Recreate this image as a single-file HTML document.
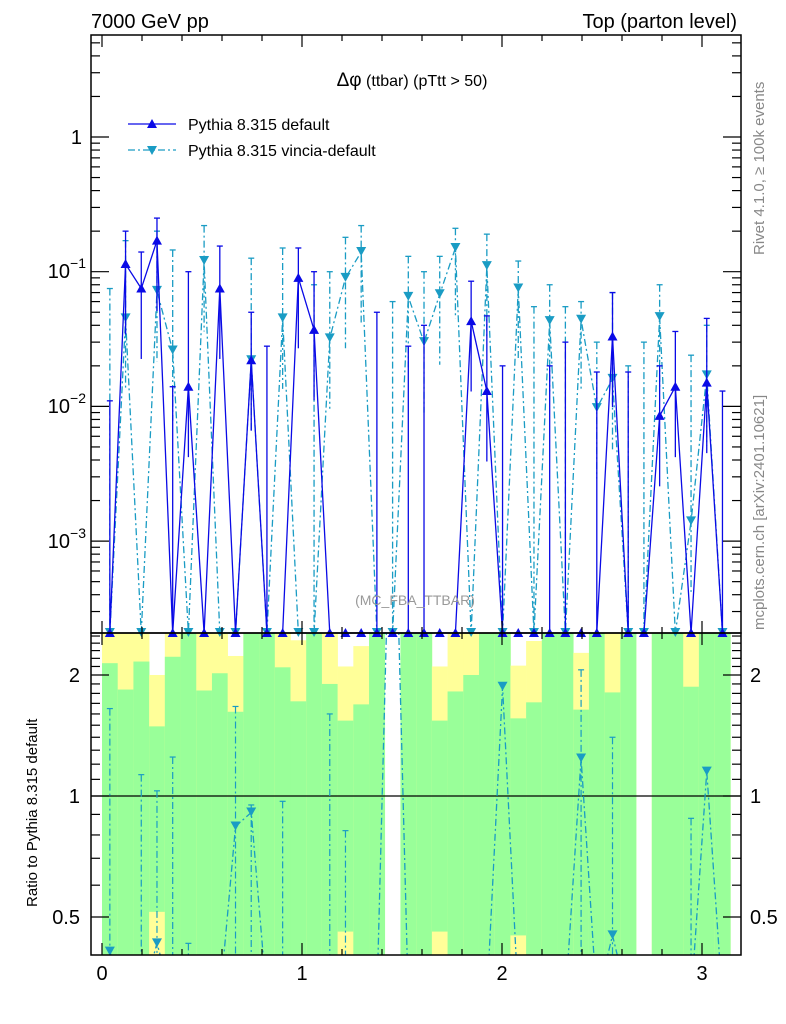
<!DOCTYPE html>
<html><head><meta charset="utf-8"><style>
html,body{margin:0;background:#fff;width:786px;height:1024px;overflow:hidden;position:relative;}
svg{display:block;font-family:"Liberation Sans",sans-serif;}
</style></head><body>
<svg id="c" width="786" height="1024" style="position:absolute;left:0;top:0;overflow:hidden"></svg>
<script>
const binCount = 40;
const defVals = [0,0.114,0.075,0.17,0,0.014,0,0.075,0,0.022,0,0,0.09,0.037,0,0,0,0,0,0,0,0,0,0.043,0.013,0,0,0,0,0,0,0,0.033,0,0,0.0085,0.014,0,0.015,0];
const defErrHi = [0.011,0.2,0.14,0.25,0.014,0.1,0,0.155,0,0.05,0.028,0,0.15,0.1,0,0,0,0.05,0,0.028,0.04,0,0,0.085,0.047,0.02,0,0,0.02,0.03,0,0.018,0.07,0.018,0,0.02,0.036,0,0.045,0.013];
const vinVals = [0,0.045,0,0.072,0.026,0,0.12,0,0,0.022,0,0.045,0,0,0.032,0.09,0.14,0,0,0.065,0.03,0.068,0.15,0,0.11,0,0.075,0,0.043,0,0.044,0.0097,0.016,0,0,0.046,0,0.0014,0.017,0];
const vinErrHi = [0.075,0.17,0,0.2,0.145,0,0.22,0,0,0.126,0,0.15,0,0.08,0.1,0.18,0.22,0,0.06,0.13,0.1,0.13,0.21,0,0.19,0,0.12,0.055,0.08,0.055,0.06,0.03,0.07,0.02,0.03,0.08,0,0.024,0.04,0];
const ratioVals = [0.41,0,0,0.43,0,0,0,0,0.84,0.91,0,0,0,0,0,0,0,0,10,0,0,0,0,0,0,1.87,0,0,0,0,1.24,0,0.45,0,0,0,0,0,1.15,0];
const ratioErrHi = [1.65,0,1.13,1.03,1.25,0.43,0,0,1.67,0.95,0,0.97,0,0,1.60,0.82,0,0,0,0,0,0,0,0,0,0,0,0,0,0,2.06,0,1.40,0,0,0,0,0.88,0,0];
const greenHi = [2.14,1.84,2.16,1.49,2.22,3,1.83,2.02,1.62,3,3,2.09,1.72,3,1.90,1.54,1.69,3,null,3,3,1.54,1.82,2.00,3,3,1.56,1.71,3,3,1.64,3,1.81,3,null,3,3,1.87,3,3];
const yellowHi = [3,3,3,2.0,3,3,3,3,2.23,3,3,3,2.44,3,3,2.10,2.36,3,null,3,3,2.10,3,3,3,3,2.11,2.43,3,3,2.27,3,3,3,null,3,3,3,3,3];
const greenLo = [0,0,0,0.515,0,0,0,0,0,0,0,0,0,0,0,0.46,0,0,0,0,0,0.46,0,0,0,0,0.45,0,0,0,0,0,0,0,0,0,0,0,0,0];
const xTicks = [0,1,2,3];
const ratioTicks = [0.5,1,2];

const svg=document.getElementById('c');
const NS='http://www.w3.org/2000/svg';
const L=91,R=741,T=35,MB=633,RB=955;
const xs=v=>102+200*v;
const bw=Math.PI/binCount;
const ym=v=>{if(v<=0)return MB;const y=137-134.7*Math.log10(v);return Math.max(T,Math.min(MB,y));};
const yrRaw=r=>Math.min(1000,796-402*Math.log10(Math.max(r,0.01)));
const yr=r=>Math.max(633,Math.min(RB,yrRaw(r)));
function el(tag,attrs,parent){const e=document.createElementNS(NS,tag);for(const k in attrs)e.setAttribute(k,attrs[k]);(parent||svg).appendChild(e);return e;}

const bands=el('g',{});


for(let i=0;i<binCount;i++){
  if(greenHi[i]===null)continue;
  const x0=xs(i*bw),x1=xs((i+1)*bw);
  const yb=el('rect',{x:x0,y:yr(yellowHi[i]),width:x1-x0+0.3,height:RB-yr(yellowHi[i]),fill:'#ffff99'},bands);
  
  
  const gb=el('rect',{x:x0,y:yr(greenHi[i]),width:x1-x0+0.3,height:yr(greenLo[i])-yr(greenHi[i]),fill:'#99ff99'},bands);
  
  
}
el('line',{x1:L,x2:R,y1:796,y2:796,stroke:'#000','stroke-width':1.2});

const defs=el('defs',{});
const cp1=el('clipPath',{id:'cm'},defs);el('rect',{x:L,y:T,width:R-L,height:MB-T+4},cp1);
const cp2=el('clipPath',{id:'cr'},defs);el('rect',{x:L,y:633,width:R-L,height:RB-633},cp2);

function series(vals,errs,color,dash,down,name){
  const g=el('g',{'clip-path':'url(#cm)'});
  
  
  let pts=vals.map((v,i)=>xs((i+0.5)*bw)+','+ym(v)).join(' ');
  el('polyline',{points:pts,fill:'none',stroke:color,'stroke-width':1.3,'stroke-dasharray':dash},g);
  vals.forEach((v,i)=>{
    const x=xs((i+0.5)*bw);
    if(errs[i]>0){
      const lo=v>0?v*0.3:0;
      el('line',{x1:x,x2:x,y1:ym(errs[i]),y2:ym(lo),stroke:color,'stroke-width':1.3,'stroke-dasharray':dash},g);
      el('line',{x1:x-3,x2:x+3,y1:ym(errs[i]),y2:ym(errs[i]),stroke:color,'stroke-width':1.3},g);
    }
    const y=ym(v);
    const m=down?el('polygon',{points:`${x-5},${y-5} ${x+5},${y-5} ${x},${y+4}`,fill:color},g)
                :el('polygon',{points:`${x-5},${y+4} ${x+5},${y+4} ${x},${y-5}`,fill:color},g);
    
    
  });
}
series(vinVals,vinErrHi,'#1a9cc4','7,3,2,3',true,'vincia-series');
series(defVals,defErrHi,'#0a0ae6','none',false,'default-series');

const rg=el('g',{'clip-path':'url(#cr)'});


el('polyline',{points:ratioVals.map((v,i)=>xs((i+0.5)*bw)+','+yrRaw(v)).join(' '),fill:'none',stroke:'#1a9cc4','stroke-width':1.3,'stroke-dasharray':'7,3,2,3'},rg);
ratioVals.forEach((v,i)=>{
  const x=xs((i+0.5)*bw);
  if(ratioErrHi[i]>0){
    el('line',{x1:x,x2:x,y1:yr(ratioErrHi[i]),y2:RB,stroke:'#1a9cc4','stroke-width':1.2,'stroke-dasharray':'7,3,2,3'},rg);
    el('line',{x1:x-3,x2:x+3,y1:yr(ratioErrHi[i]),y2:yr(ratioErrHi[i]),stroke:'#1a9cc4','stroke-width':1.2},rg);
  }
  if(v>0.39&&v<2.6){const y=yr(v);
    const m=el('polygon',{points:`${x-5},${y-5} ${x+5},${y-5} ${x},${y+4}`,fill:'#1a9cc4'},rg);
    
    }
});

el('rect',{x:L,y:T,width:R-L,height:MB-T,fill:'none',stroke:'#000','stroke-width':1.5});
el('rect',{x:L,y:MB,width:R-L,height:RB-MB,fill:'none',stroke:'#000','stroke-width':1.5});

for(let v=0;v<=3.15;v+=0.2){
  const x=xs(v);const maj=Math.abs(v-Math.round(v))<1e-6;const len=maj?12:6;
  [[MB,-1],[T,1],[RB,-1],[MB,1]].forEach(([y,d])=>el('line',{x1:x,x2:x,y1:y,y2:y+d*len,stroke:'#000','stroke-width':1.2}));
}
xTicks.forEach(v=>{const t=el('text',{x:xs(v),y:980,'font-size':20,'text-anchor':'middle'});t.textContent=v;
  });

for(let d=-4;d<=0;d++){for(let k=1;k<10;k++){const v=k*Math.pow(10,d);const y=137-134.7*Math.log10(v);
  if(y<T||y>MB)continue;const len=k===1?18:9;
  el('line',{x1:L,x2:L+len,y1:y,y2:y,stroke:'#000','stroke-width':1.2});
  el('line',{x1:R,x2:R-len,y1:y,y2:y,stroke:'#000','stroke-width':1.2});}}
const yl=[['1',137,''],['10',271,'−1'],['10',406,'−2'],['10',541,'−3']];
yl.forEach(([b,y,e])=>{const t=el('text',{x:e?70:82,y:y+7,'font-size':20,'text-anchor':'end'});t.textContent=b;
  
  if(e){const s=el('text',{x:86,y:y-3,'font-size':14,'text-anchor':'end'});s.textContent=e;}});

const rMinor=[0.4,0.5,0.6,0.7,0.8,0.9,1,1.1,1.2,1.3,1.4,1.5,1.6,1.7,1.8,1.9,2,2.1,2.2,2.3,2.4,2.5];
rMinor.forEach(r=>{const y=yrRaw(r);if(y<633||y>RB)return;const maj=[0.5,1,2].some(m=>Math.abs(m-r)<1e-6);const len=maj?18:9;
  el('line',{x1:L,x2:L+len,y1:y,y2:y,stroke:'#000','stroke-width':1.2});
  el('line',{x1:R,x2:R-len,y1:y,y2:y,stroke:'#000','stroke-width':1.2});});
ratioTicks.forEach(r=>{const y=yr(r)+7;
  const a=el('text',{x:80,y:y,'font-size':20,'text-anchor':'end'});a.textContent=r;
  
  const b=el('text',{x:750,y:y,'font-size':20});b.textContent=r;
  });
</script>
<svg width="786" height="1024" style="position:absolute;left:0;top:0;font-family:'Liberation Sans',sans-serif">
<text x="91" y="28" font-size="20">7000 GeV pp</text>
<text x="737" y="28" font-size="20" text-anchor="end">Top (parton level)</text>
<text x="412" y="86" font-size="16" text-anchor="middle"><tspan font-size="19">Δφ</tspan> (ttbar) (pTtt &gt; 50)</text>
<g>
<line x1="128" x2="176" y1="124" y2="124" stroke="#0a0ae6" stroke-width="1.3"/>
<polygon points="147,128 157,128 152,119" fill="#0a0ae6"/>
<text x="188" y="130" font-size="16">Pythia 8.315 default</text>
<line x1="128" x2="176" y1="150" y2="150" stroke="#1a9cc4" stroke-width="1.3" stroke-dasharray="7,3,2,3"/>
<polygon points="147,146 157,146 152,155" fill="#1a9cc4"/>
<text x="188" y="156" font-size="16">Pythia 8.315 vincia-default</text>
</g>
<text x="415" y="605" font-size="14" fill="#999" text-anchor="middle">(MC_FBA_TTBAR)</text>
<text transform="translate(764,255) rotate(-90)" font-size="15" fill="#888">Rivet 4.1.0, ≥ 100k events</text>
<text transform="translate(764,630) rotate(-90)" font-size="15" fill="#888">mcplots.cern.ch [arXiv:2401.10621]</text>
<text transform="translate(37,907) rotate(-90)" font-size="15">Ratio to Pythia 8.315 default</text>
</svg>
</body></html>
